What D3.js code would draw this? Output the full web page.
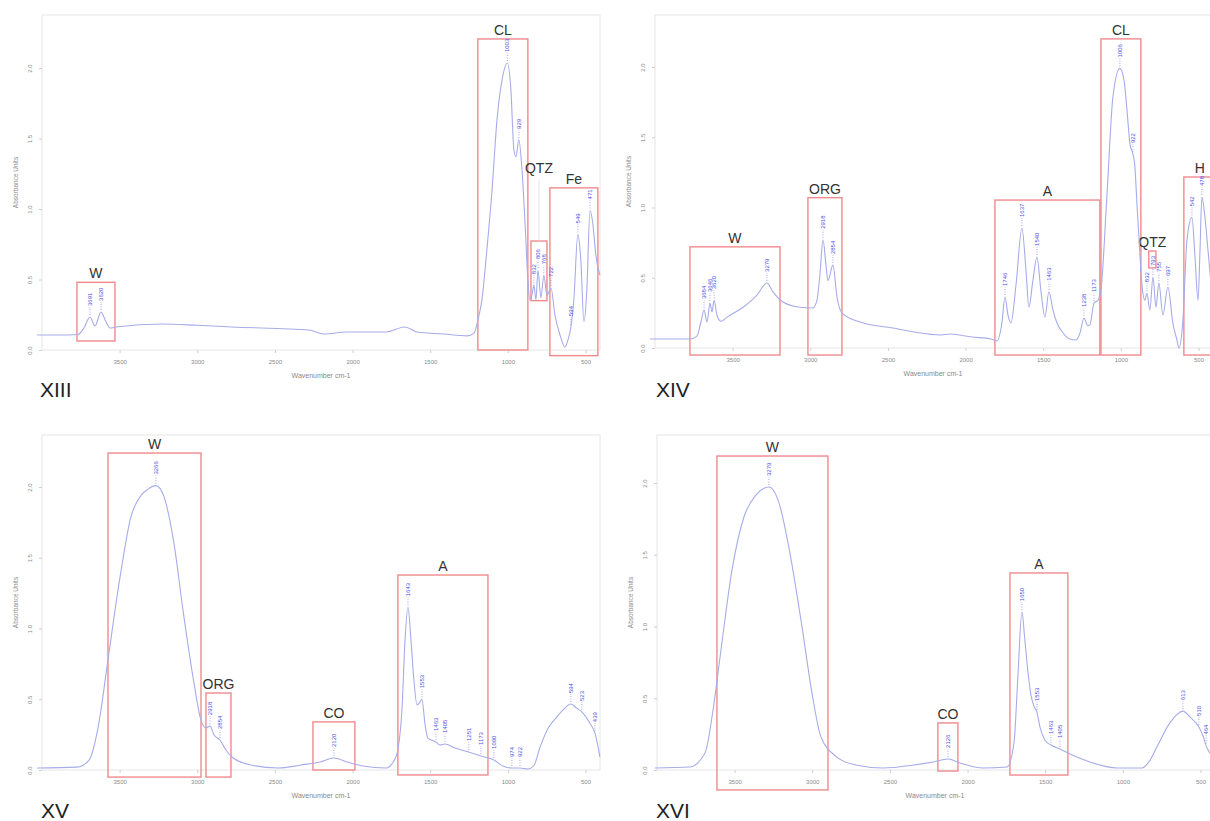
<!DOCTYPE html>
<html><head><meta charset="utf-8">
<script src="https://cdn.jsdelivr.net/npm/d3@7"></script>
<style>body{margin:0;background:#fff} svg{display:block}</style>
</head><body>
<svg id="c" width="1210" height="821"></svg>
<script>
// ---------- DATA ----------
const xTicks = [3500, 3000, 2500, 2000, 1500, 1000, 500];
const yTicks = [0, 0.5, 1.0, 1.5, 2.0];
const panelNames = ["XIII", "XIV", "XV", "XVI"];
const xTitle = "Wavenumber cm-1";
const yTitle = "Absorbance Units";

// spectra: [wavenumber cm-1, absorbance]
const spectrumXIII = [[4032,0.106],[3884,0.106],[3768,0.11],[3730,0.156],[3691,0.234],[3659,0.17],[3620,0.27],[3588,0.20],[3562,0.156],[3524,0.163],[3227,0.184],[3000,0.175],[2777,0.163],[2281,0.142],[2184,0.113],[2036,0.128],[1785,0.128],[1663,0.163],[1585,0.128],[1412,0.113],[1263,0.10],[1218,0.12],[1193,0.21],[1167,0.355],[1135,0.71],[1102,1.13],[1070,1.63],[1038,1.91],[1003,2.035],[980,1.84],[961,1.42],[948,1.37],[929,1.49],[909,1.28],[890,0.92],[871,0.50],[858,0.355],[845,0.39],[832,0.46],[819,0.355],[806,0.567],[787,0.37],[768,0.53],[748,0.39],[722,0.44],[697,0.25],[664,0.106],[632,0.02],[613,0.07],[594,0.163],[575,0.355],[549,0.82],[530,0.64],[510,0.2],[491,0.43],[471,0.99],[452,0.89],[433,0.67],[407,0.53]];
const peaksXIII = [[3691,0.234],[3620,0.27],[1003,2.035],[929,1.49],[832,0.46],[806,0.567],[768,0.53],[722,0.44],[594,0.163],[549,0.82],[471,0.99]];
// boxes: [label, wnLeft, wnRight, absTop, absBottom, (labelAbs)]
const boxesXIII = [["W",3775,3530,0.48,0.064],["CL",1193,871,2.206,0.0],["QTZ",851,748,0.773,0.35,1.23],["Fe",729,420,1.15,-0.04]];

const spectrumXIV = [[4032,0.064],[3775,0.064],[3730,0.085],[3704,0.185],[3684,0.27],[3665,0.185],[3646,0.32],[3633,0.256],[3620,0.34],[3601,0.235],[3575,0.19],[3536,0.22],[3433,0.29],[3343,0.377],[3279,0.463],[3240,0.40],[3176,0.327],[3066,0.29],[2983,0.285],[2957,0.34],[2938,0.52],[2918,0.77],[2899,0.59],[2886,0.48],[2854,0.59],[2828,0.363],[2796,0.25],[2680,0.185],[2467,0.142],[2332,0.114],[2158,0.093],[2100,0.10],[1959,0.078],[1836,0.064],[1798,0.05],[1766,0.178],[1746,0.363],[1727,0.235],[1708,0.178],[1675,0.45],[1637,0.854],[1611,0.555],[1592,0.29],[1566,0.484],[1540,0.648],[1515,0.41],[1489,0.22],[1463,0.40],[1437,0.27],[1411,0.178],[1372,0.107],[1328,0.064],[1289,0.057],[1263,0.107],[1238,0.214],[1212,0.157],[1199,0.164],[1173,0.32],[1147,0.34],[1128,0.413],[1090,1.075],[1051,1.786],[1006,1.99],[980,1.91],[961,1.70],[941,1.45],[922,1.38],[910,1.30],[895,1.0],[884,0.80],[864,0.448],[845,0.34],[832,0.39],[813,0.27],[793,0.505],[774,0.29],[755,0.463],[729,0.235],[697,0.434],[665,0.178],[639,0.057],[626,0.0],[600,0.2],[574,0.77],[542,0.93],[523,0.66],[503,0.34],[490,0.70],[478,1.075],[460,0.95],[439,0.70],[413,0.41],[400,0.34]];
const peaksXIV = [[3684,0.27],[3646,0.32],[3620,0.34],[3279,0.463],[2918,0.77],[2854,0.59],[1746,0.363],[1637,0.854],[1540,0.648],[1463,0.40],[1238,0.214],[1173,0.32],[1006,1.99],[922,1.38],[832,0.39],[793,0.505],[755,0.463],[697,0.434],[542,0.93],[478,1.075]];
const boxesXIV = [["W",3775,3195,0.72,-0.05],["ORG",3015,2796,1.07,-0.05],["A",1811,1135,1.053,-0.05],["CL",1128,871,2.2,-0.05],["QTZ",820,774,0.69,0.57],["H",594,390,1.217,-0.05]];

const spectrumXV = [[4032,0.014],[3775,0.02],[3697,0.07],[3639,0.30],[3575,0.78],[3498,1.36],[3427,1.79],[3363,1.94],[3324,1.98],[3266,2.01],[3214,1.93],[3150,1.60],[3092,1.13],[3028,0.66],[2976,0.353],[2944,0.297],[2918,0.31],[2892,0.247],[2854,0.212],[2815,0.141],[2777,0.092],[2654,0.035],[2480,0.014],[2332,0.035],[2210,0.057],[2120,0.085],[2036,0.057],[1933,0.028],[1785,0.014],[1721,0.092],[1682,0.424],[1663,0.90],[1643,1.15],[1624,0.92],[1605,0.636],[1585,0.46],[1566,0.48],[1553,0.50],[1534,0.33],[1515,0.226],[1463,0.198],[1437,0.177],[1405,0.184],[1341,0.155],[1251,0.127],[1173,0.099],[1090,0.071],[1032,0.028],[974,0.014],[922,0.014],[871,0.007],[833,0.03],[793,0.16],[738,0.30],[684,0.375],[640,0.43],[594,0.466],[560,0.44],[523,0.41],[471,0.33],[439,0.26],[420,0.17],[407,0.09]];
const peaksXV = [[3266,2.01],[2918,0.31],[2854,0.212],[2120,0.085],[1643,1.15],[1553,0.50],[1463,0.198],[1405,0.184],[1251,0.127],[1173,0.099],[1090,0.071],[974,0.014],[922,0.014],[594,0.466],[523,0.41],[439,0.26]];
const boxesXV = [["W",3575,2976,2.24,-0.05],["ORG",2944,2783,0.544,-0.05],["CO",2255,1985,0.34,0.0],["A",1708,1128,1.378,-0.035]];

const spectrumXVI = [[4013,0.014],[3788,0.021],[3691,0.118],[3639,0.418],[3588,0.836],[3517,1.394],[3440,1.763],[3363,1.916],[3279,1.972],[3214,1.86],[3144,1.512],[3066,0.997],[3002,0.537],[2944,0.23],[2841,0.09],[2719,0.035],[2545,0.014],[2345,0.035],[2223,0.056],[2126,0.077],[2049,0.049],[1901,0.014],[1746,0.021],[1701,0.188],[1676,0.648],[1650,1.10],[1631,0.906],[1611,0.683],[1592,0.523],[1573,0.446],[1553,0.404],[1534,0.30],[1502,0.209],[1463,0.174],[1405,0.146],[1296,0.09],[1212,0.056],[1038,0.014],[877,0.014],[830,0.06],[781,0.16],[697,0.328],[613,0.41],[568,0.37],[510,0.30],[481,0.23],[464,0.17],[439,0.118],[400,0.06]];
const peaksXVI = [[3279,1.972],[2126,0.077],[1650,1.10],[1553,0.404],[1463,0.174],[1405,0.146],[613,0.41],[510,0.30],[464,0.17]];
const boxesXVI = [["W",3614,2899,2.188,-0.139],["CO",2191,2062,0.328,-0.007],["A",1727,1354,1.373,-0.035]];

// ---------- LAYOUT ----------
const FONT = "'Liberation Sans', Arial, sans-serif";
const panels = [
  {name:panelNames[0], spec:spectrumXIII, peaks:peaksXIII, boxes:boxesXIII, x0:42,  x1:601,  yb:350, yt:68,  fr:600,  ft:15,  lx:40,  ly:397, tx:321},
  {name:panelNames[1], spec:spectrumXIV,  peaks:peaksXIV,  boxes:boxesXIV,  x0:655, x1:1214, yb:348, yt:67,  fr:1216, ft:15,  lx:656, ly:397, tx:933},
  {name:panelNames[2], spec:spectrumXV,   peaks:peaksXV,   boxes:boxesXV,   x0:42,  x1:601,  yb:770, yt:487, fr:600,  ft:435, lx:41,  ly:818, tx:321},
  {name:panelNames[3], spec:spectrumXVI,  peaks:peaksXVI,  boxes:boxesXVI,  x0:657, x1:1216, yb:770, yt:483, fr:1216, ft:435, lx:656, ly:818, tx:935}
];

const svg = d3.select("#c");

panels.forEach(p => {
  const g = svg.append("g");
  const x = d3.scaleLinear().domain([4000, 400]).range([p.x0, p.x1]);
  const y = d3.scaleLinear().domain([0, 2]).range([p.yb, p.yt]);

  // frame
  g.append("rect").attr("x", p.x0).attr("y", p.ft)
    .attr("width", p.fr - p.x0).attr("height", p.yb - p.ft)
    .attr("fill", "none").attr("stroke", "#e6e6e6").attr("stroke-width", 1);

  // x axis
  const xa = g.append("g").attr("transform", `translate(0,${p.yb})`)
    .call(d3.axisBottom(x).tickValues(xTicks).tickSize(3).tickPadding(7).tickFormat(d3.format("d")));
  xa.select(".domain").remove();
  xa.selectAll("line").attr("stroke", "#cfcfcf");
  xa.selectAll("text").attr("fill", "#8a8a8a").style("font-size", "6px").style("font-family", FONT);

  // y axis
  const ya = g.append("g").attr("transform", `translate(${p.x0},0)`)
    .call(d3.axisLeft(y).tickValues(yTicks).tickSize(3).tickFormat(d3.format(".1f")));
  ya.select(".domain").remove();
  ya.selectAll("line").attr("stroke", "#cfcfcf");
  ya.selectAll("text").attr("x", 0).attr("dy", 0)
    .attr("text-anchor", "middle").attr("transform", "translate(-10,0) rotate(-90)")
    .attr("fill", "#8a8a8a").style("font-size", "6px").style("font-family", FONT);

  // axis titles
  g.append("text").attr("x", p.tx).attr("y", p.yb + 28)
    .attr("text-anchor", "middle").attr("fill", "#8a8a8a").style("font-size", "7px").style("font-family", FONT)
    .text(xTitle);
  g.append("text").attr("transform", `translate(${p.x0 - 24},${(p.ft + p.yb) / 2}) rotate(-90)`)
    .attr("text-anchor", "middle").attr("fill", "#8a8a8a").style("font-size", "6.5px").style("font-family", FONT)
    .text(yTitle);

  // boxes
  p.boxes.forEach(b => {
    const bx = x(b[1]), bw = x(b[2]) - x(b[1]);
    const by = y(b[3]), bh = y(b[4]) - y(b[3]);
    g.append("rect").attr("x", bx).attr("y", by).attr("width", bw).attr("height", bh)
      .attr("fill", "none").attr("stroke", "#f08a8e").attr("stroke-width", 1.4);
    const ly = b.length > 5 ? y(b[5]) : by;
    if (b.length > 5) {
      g.append("line").attr("x1", bx + bw / 2).attr("x2", bx + bw / 2)
        .attr("y1", ly + 3).attr("y2", by).attr("stroke", "#dcdcea").attr("stroke-width", 0.8);
    }
    g.append("text").attr("x", bx + bw / 2).attr("y", ly - 4)
      .attr("text-anchor", "middle").attr("fill", "#333")
      .style("font-size", "14px").style("font-family", FONT).text(b[0]);
  });

  // spectrum
  const line = d3.line().x(d => x(d[0])).y(d => y(d[1])).curve(d3.curveMonotoneX);
  g.append("path").datum(p.spec).attr("d", line)
    .attr("fill", "none").attr("stroke", "#a6ace9").attr("stroke-width", 1.1);

  // peak labels
  p.peaks.forEach(pk => {
    const px = x(pk[0]), py = y(pk[1]);
    g.append("line").attr("x1", px).attr("x2", px).attr("y1", py - 2).attr("y2", py - 10)
      .attr("stroke", "#8a8af0").attr("stroke-width", 0.8).attr("stroke-dasharray", "1,1.5");
    g.append("text").attr("transform", `translate(${px},${py - 11}) rotate(-90)`)
      .attr("dy", "0.35em").attr("text-anchor", "start")
      .attr("fill", "#4f4fe6").style("font-size", "6px").style("font-family", FONT)
      .text(String(pk[0]));
  });

  // panel label
  g.append("text").attr("x", p.lx).attr("y", p.ly).attr("fill", "#222")
    .style("font-size", "21px").style("font-family", FONT).text(p.name);
});
</script>
</body></html>
